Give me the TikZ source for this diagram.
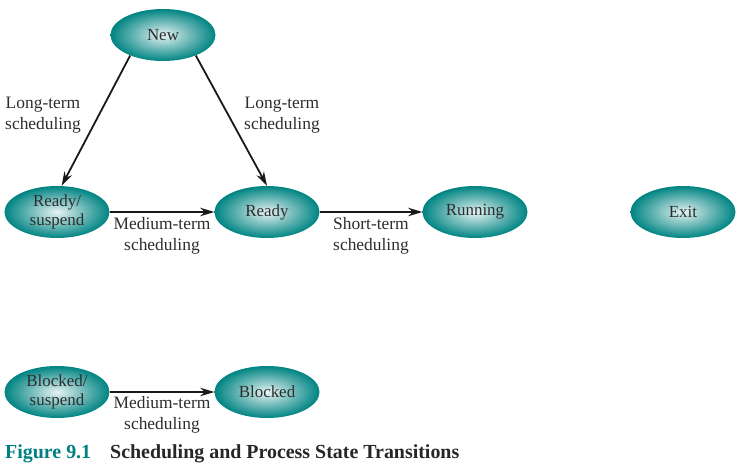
\documentclass[tikz,border=0pt]{standalone}
\usepackage{fontspec}
\setmainfont{Liberation Serif}
\usetikzlibrary{arrows.meta, shapes.geometric}
\definecolor{stateteal}{RGB}{0,132,130}
\definecolor{figteal}{RGB}{0,128,128}
\definecolor{txtgray}{RGB}{45,45,45}

\begin{document}
\begin{tikzpicture}[
        x=1bp, y=-1bp,
        state/.style={ellipse, minimum width=105bp, minimum height=52bp, inner sep=0pt,
                      inner color=stateteal!10, outer color=stateteal, align=center,
                      text=txtgray, font=\fontsize{17}{19.5}\selectfont},
        line/.style={line width=1.8pt, draw=black!90},
        arr/.style={line, -{Stealth[length=5mm, width=3mm]}},
        lbl/.style={align=center, text=txtgray, font=\fontsize{17.5}{20.5}\selectfont}
    ]
        \useasboundingbox (0,0) rectangle (744,467);

        \node[state] (new)     at (163, 35)  {New};
        \node[state] (rsus)    at (57, 212)  {Ready/\\suspend};
        \node[state] (ready)   at (267, 212) {Ready};
        \node[state] (running) at (475, 212) {Running};
        \node[state] (exit)    at (683, 212) {Exit};
        \node[state] (bsus)    at (57, 392)  {Blocked/\\suspend};
        \node[state] (blocked) at (267, 392) {Blocked};

        % long-term scheduling (diagonal)
        \draw[arr] (new.212) -- (rsus.80);
        \draw[arr] (new.328) -- (ready.90);
        \node[lbl] (ltl) at (43, 115)  {Long-term\\scheduling};
        \node[lbl] (ltr) at (282, 115) {Long-term\\scheduling};

        % medium and short term (horizontal)
        \draw[arr] (rsus.east) -- (ready.west);
        \draw[arr] (ready.east) -- (running.west);
        \draw[arr] (bsus.east) -- (blocked.west);
        \node[lbl] (mtr) at (162, 236) {Medium-term\\scheduling};
        \node[lbl] (stl) at (371, 236) {Short-term\\scheduling};
        \node[lbl] (mtb) at (162, 415) {Medium-term\\scheduling};

        % caption
        \node[anchor=west, font=\fontsize{20}{20}\selectfont\bfseries, text=figteal, inner sep=0pt]
            (fig) at (5, 454) {Figure 9.1};
        \node[anchor=west, font=\fontsize{20}{20}\selectfont\bfseries, text=black!85, inner sep=0pt]
            (cap) at (110, 454) {Scheduling and Process State Transitions};
    \end{tikzpicture}
\end{document}
